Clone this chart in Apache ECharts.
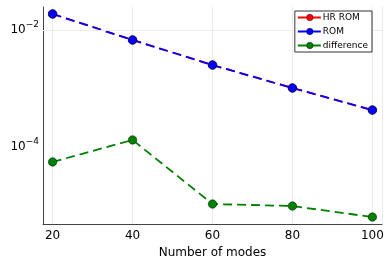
<!DOCTYPE html>
<html>
<head>
<meta charset="utf-8">
<script src="https://cdn.jsdelivr.net/npm/echarts@6/dist/echarts.min.js"></script>
<style>html,body{margin:0;padding:0;background:#fff}#c{width:389px;height:259px}</style>
</head>
<body>
<div id="c"></div>
<script>
const modes = [20, 40, 60, 80, 100];
const hrRom = [0.0188, 0.00675, 0.00252, 0.00102, 0.000428];
const rom = [0.0188, 0.00675, 0.00252, 0.00102, 0.000428];
const difference = [5.55e-5, 1.32e-4, 1.06e-5, 9.8e-6, 6.35e-6];
const xTicks = [20, 40, 60, 80, 100];
const yTickExponents = [-4, -2];
const names = ['HR ROM', 'ROM', 'difference'];
const colors = ['#ff0000', '#0000ff', '#008000'];

const chart = echarts.init(document.getElementById('c'), null, {renderer: 'canvas'});
const font = 'DejaVu Sans';
function mk(name, ys, color) {
  return {
    name: name, type: 'line', z: 3,
    data: modes.map((m, i) => [m, ys[i]]),
    symbol: 'circle', symbolSize: 8.5,
    itemStyle: {color: color, borderColor: 'rgba(0,0,0,0.6)', borderWidth: 0.8},
    lineStyle: {color: color, width: 1.8, type: [9, 5]},
    emphasis: {disabled: true},
    animation: false
  };
}
chart.setOption({
  animation: false,
  textStyle: {fontFamily: font},
  grid: {left: 43, right: 7, top: 7, bottom: 35, outerBoundsMode: 'none', containLabel: false},
  legend: {
    right: 17, top: 11, orient: 'vertical', z: 20, zlevel: 0,
    itemWidth: 24, itemHeight: 8, itemGap: 5,
    backgroundColor: '#fff', borderColor: '#333', borderWidth: 1, borderRadius: 0,
    padding: [2, 4, 2, 2],
    textStyle: {fontSize: 9, fontFamily: font, color: '#000', padding: [0, 0, 0, -4]},
    data: names.map((n, i) => ({
      name: n,
      itemStyle: {color: colors[i], borderColor: 'rgba(0,0,0,0.6)', borderWidth: 0.8},
      lineStyle: {color: colors[i], width: 2, type: [9, 5]}
    }))
  },
  xAxis: {
    type: 'value', min: 17.6, max: 102.4,
    name: 'Number of modes', nameLocation: 'middle', nameGap: 21,
    nameTextStyle: {fontSize: 12, color: '#000', fontFamily: font},
    axisLine: {show: true, onZero: false, lineStyle: {color: '#444', width: 1}},
    axisTick: {show: false},
    splitLine: {show: true, lineStyle: {color: '#ebebeb', width: 1}},
    axisLabel: {
      fontSize: 12, color: '#000', margin: 6, showMinLabel: true, showMaxLabel: true,
      formatter: v => xTicks.indexOf(Math.round(v)) >= 0 && Math.abs(v - Math.round(v)) < 1e-6 ? String(Math.round(v)) : ''
    }
  },
  yAxis: {
    type: 'log', logBase: 10,
    min: Math.pow(10, -5.316), max: Math.pow(10, -1.607),
    axisLine: {show: true, lineStyle: {color: '#444', width: 1}},
    axisTick: {show: false},
    splitLine: {show: false},
    axisLabel: {
      color: '#000', margin: 4, fontSize: 12,
      formatter: v => {
        const l = Math.log10(v), e = Math.round(l);
        if (Math.abs(l - e) > 1e-6 || yTickExponents.indexOf(e) < 0) return '';
        return '10{s|\u2212' + Math.abs(e) + '}';
      },
      rich: {s: {fontSize: 9, verticalAlign: 'top', padding: [0, 0, 10, 0], color: '#000'}}
    }
  },
  series: [
    mk(names[0], hrRom, colors[0]), mk(names[1], rom, colors[1]), mk(names[2], difference, colors[2]),
    {
      name: 'gridlines', type: 'line', data: [], z: 0, silent: true,
      symbol: 'none', lineStyle: {color: '#ebebeb'}, itemStyle: {color: '#ebebeb'},
      markLine: {
        silent: true, symbol: 'none', animation: false,
        label: {show: false},
        lineStyle: {color: '#ebebeb', width: 1, type: 'solid'},
        emphasis: {disabled: true},
        data: yTickExponents.map(e => ({yAxis: Math.pow(10, e)}))
      }
    }
  ]
});
</script>
</body>
</html>
